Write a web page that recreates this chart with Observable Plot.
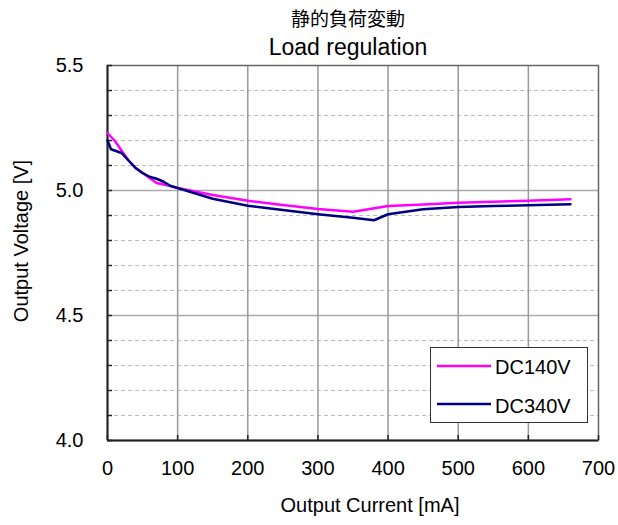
<!DOCTYPE html>
<html><head><meta charset="utf-8">
<script src="https://cdn.jsdelivr.net/npm/d3@7"></script>
<script src="https://cdn.jsdelivr.net/npm/@observablehq/plot@0.6"></script>
<style>
body{margin:0;background:#fff;font-family:"Liberation Sans",Arial,sans-serif;}
#wrap{position:relative;width:618px;height:525px;}
#legend{position:absolute;left:430px;top:347px;width:158px;height:76px;border:1px solid #333;background:#fff;box-sizing:border-box;}
</style></head>
<body><div id="wrap"><div id="chart"></div>
<div id="legend"><svg width="158" height="76" style="display:block">
<line x1="6" x2="60" y1="18" y2="18" stroke="#FF00FF" stroke-width="2.5"/>
<text x="64" y="26" font-size="20" font-family="Liberation Sans, Arial, sans-serif">DC140V</text>
<line x1="6" x2="60" y1="56" y2="56" stroke="#000080" stroke-width="2.5"/>
<text x="64" y="65" font-size="20" font-family="Liberation Sans, Arial, sans-serif">DC340V</text>
</svg></div></div>
<script>
const currents140 = [0,10,20,30,40,50,60,70,90,100,150,200,250,300,350,400,450,500,550,600,660];
const volts140 = [5.23,5.20,5.16,5.12,5.09,5.07,5.05,5.03,5.018,5.01,4.982,4.959,4.942,4.926,4.915,4.938,4.944,4.951,4.955,4.959,4.965];
const currents340 = [0,5,20,30,40,50,60,70,80,90,100,150,200,250,300,350,380,400,450,500,550,600,660];
const volts340 = [5.20,5.165,5.15,5.12,5.09,5.07,5.055,5.047,5.035,5.018,5.01,4.967,4.939,4.922,4.905,4.891,4.881,4.905,4.925,4.934,4.938,4.941,4.945];
const xTicks = [0,100,200,300,400,500,600,700];
const yTicks = [4.0,4.5,5.0,5.5];
const yMinor = d3.range(40,56).map(d=>d/10);
const titles = ["静的負荷変動","Load regulation"];

const s140 = currents140.map((c,i)=>({c, v:volts140[i]}));
const s340 = currents340.map((c,i)=>({c, v:volts340[i]}));

const plot = Plot.plot({
  width:618, height:525,
  marginLeft:107, marginRight:20, marginTop:65, marginBottom:85,
  style:{fontFamily:"Liberation Sans, Arial, sans-serif", fontSize:"20px", color:"#000", background:"#fff"},
  x:{domain:[0,700], label:null},
  y:{domain:[4,5.5], label:null},
  marks:[
    Plot.ruleY(yMinor.filter(d=>Math.abs(d*2-Math.round(d*2))>1e-6), {stroke:"#bbb", strokeDasharray:"4,3", strokeWidth:1}),
    Plot.ruleY([4.5,5.0], {stroke:"#aaa", strokeWidth:1.5}),
    Plot.ruleX(xTicks.slice(1,-1), {stroke:"#999", strokeWidth:1.5}),
    Plot.frame({stroke:"#666", strokeWidth:1.5}),
    Plot.ruleX([0], {stroke:"#222", strokeWidth:2}),
    Plot.ruleY([4], {stroke:"#222", strokeWidth:2}),
    Plot.axisY(yMinor, {tickSize:-5, text:null, label:null, stroke:"#222", strokeWidth:1.5}),
    Plot.axisX(xTicks, {tickSize:-5, text:null, label:null, stroke:"#222", strokeWidth:1.5}),
    Plot.axisY(yTicks, {tickSize:0, tickPadding:24, tickFormat:d3.format(".1f"), fontSize:20, label:null}),
    Plot.axisX(xTicks, {tickSize:0, tickPadding:20, fontSize:20, label:null}),
    Plot.text(["Output Voltage [V]"], {frameAnchor:"left", dx:-85.5, dy:-12, rotate:-90, textAnchor:"middle", fontSize:20}),
    Plot.text(["Output Current [mA]"], {frameAnchor:"bottom", dx:17, dy:71, fontSize:20}),
    Plot.text([titles[0]], {frameAnchor:"top", dx:-5, dy:-53, fontSize:19, fontFamily:"Noto Sans CJK JP"}),
    Plot.text([titles[1]], {frameAnchor:"top", dx:-5, dy:-27, fontSize:23}),
    Plot.line(s140, {x:"c", y:"v", stroke:"#FF00FF", strokeWidth:2.5}),
    Plot.line(s340, {x:"c", y:"v", stroke:"#000080", strokeWidth:2.5})
  ]
});
document.getElementById("chart").appendChild(plot);
</script></body></html>
